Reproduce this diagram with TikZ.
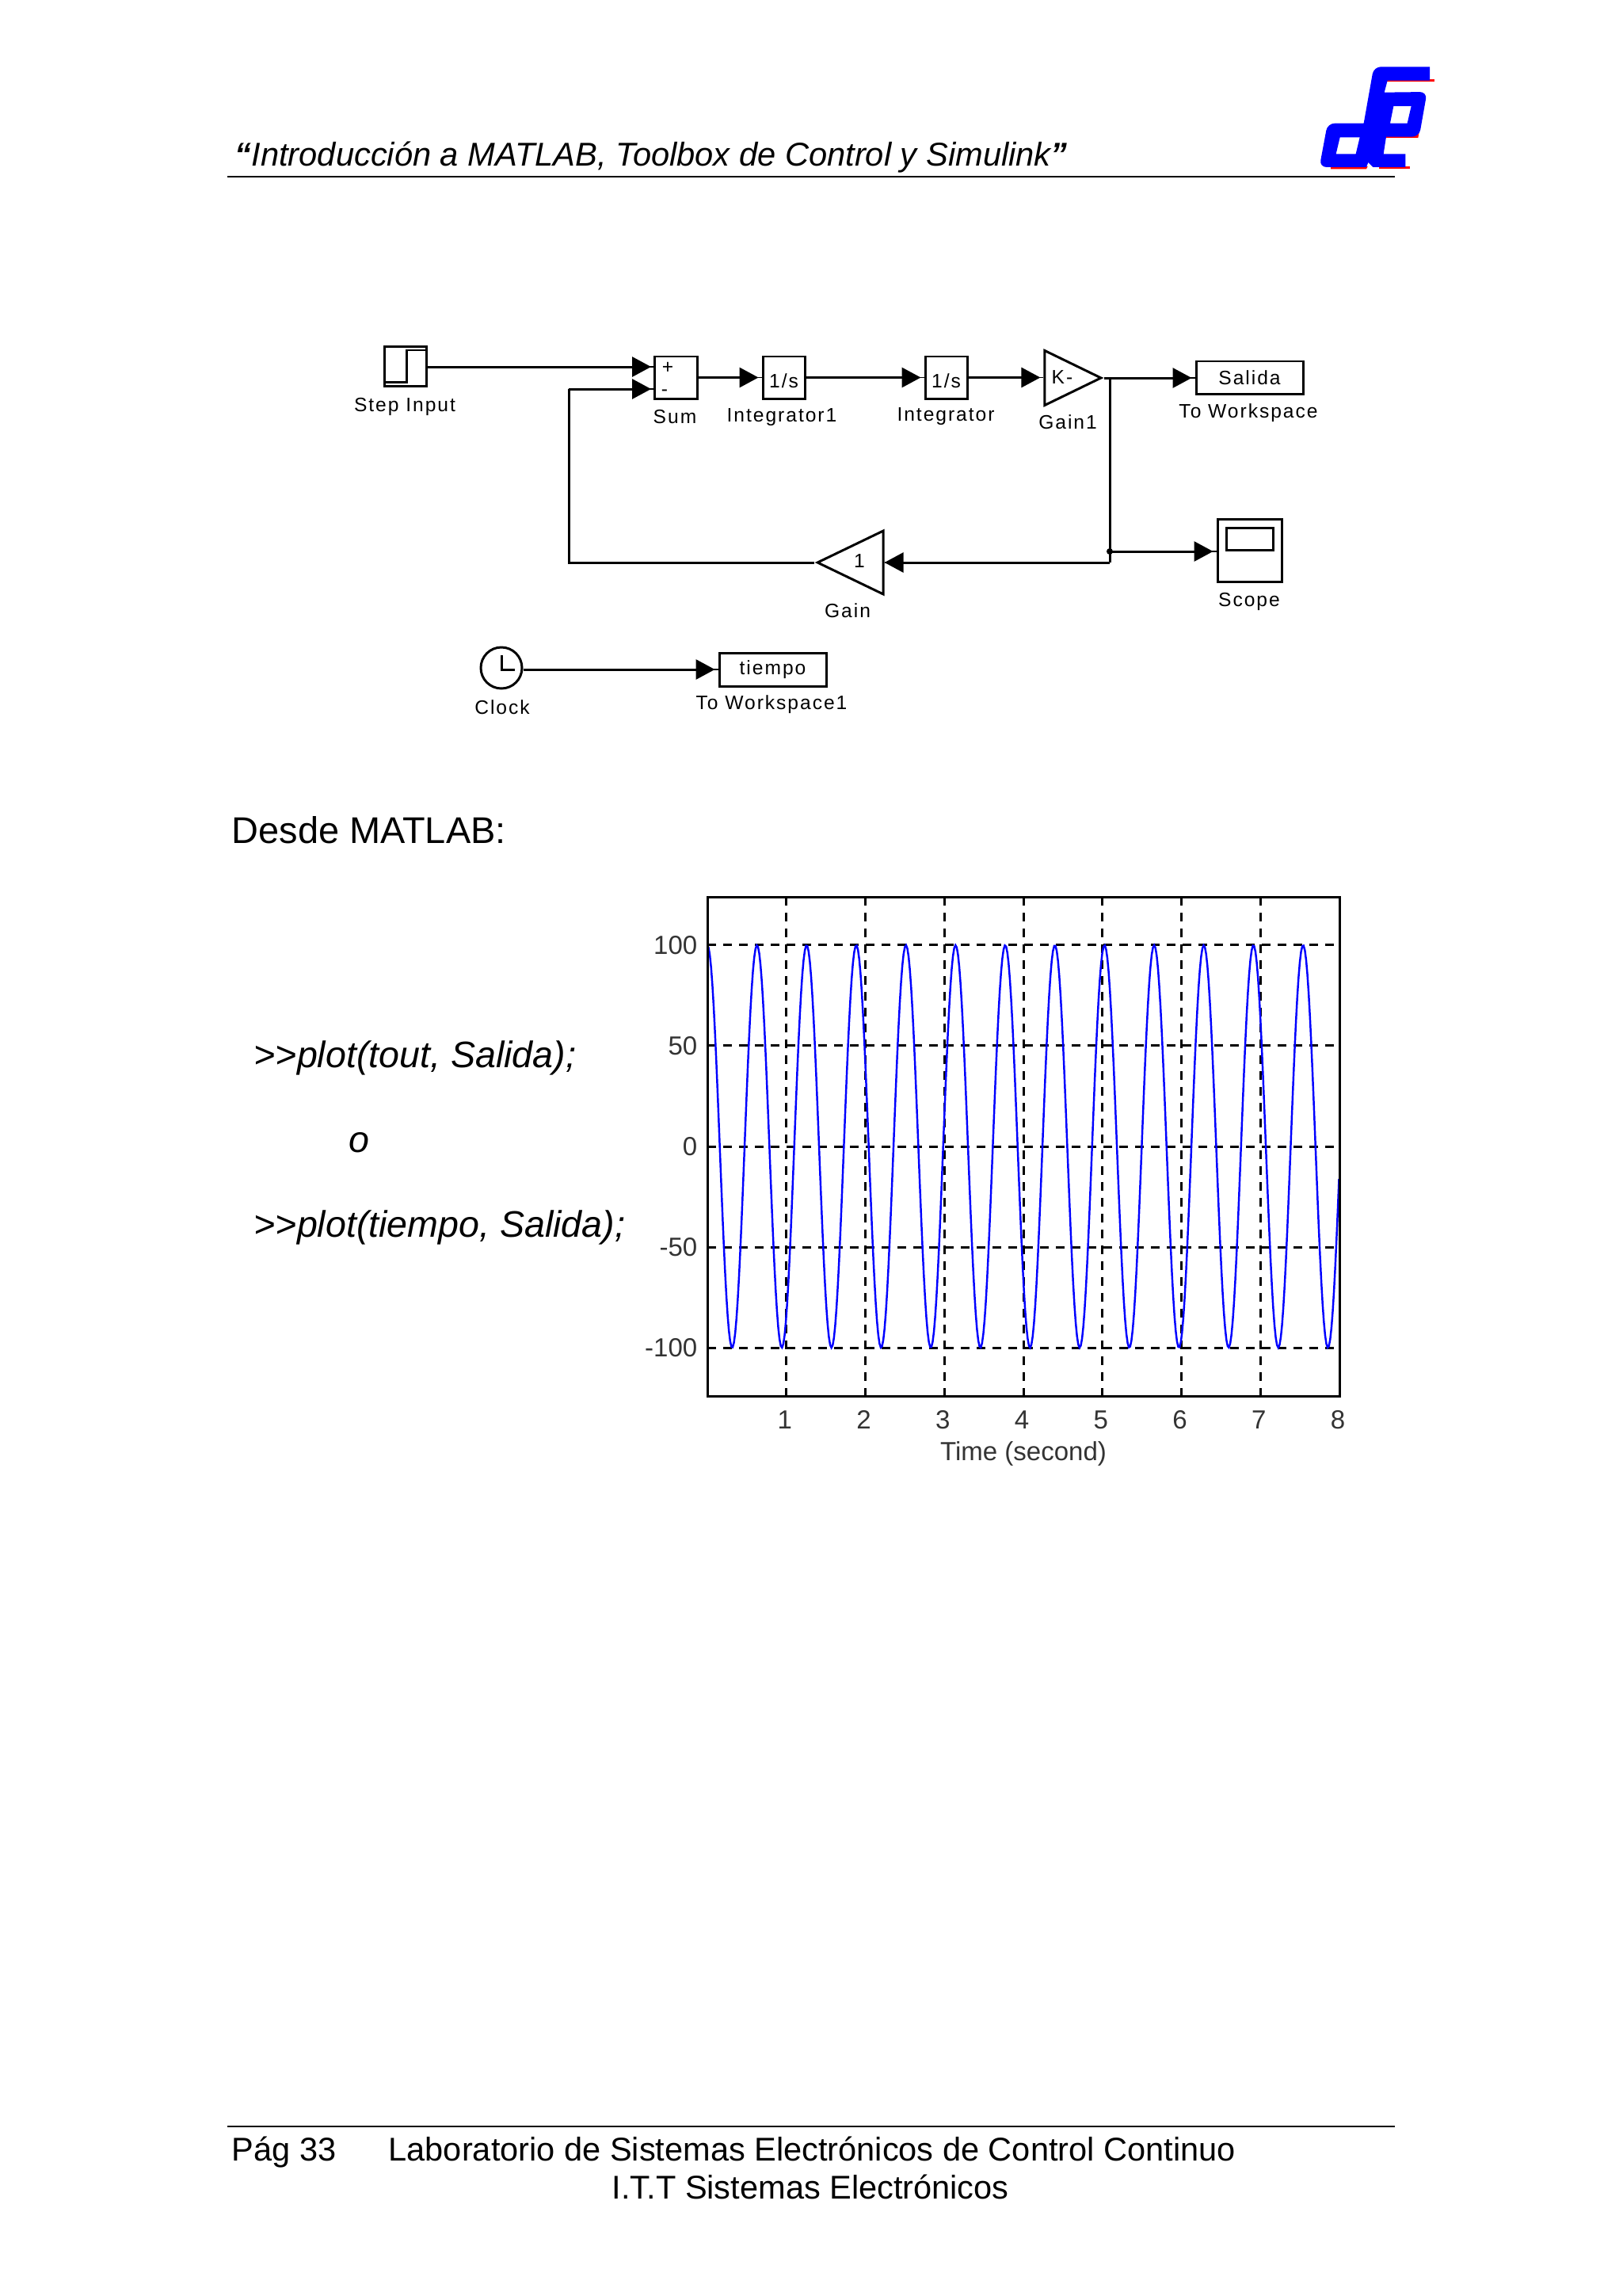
\documentclass[tikz,border=0pt]{standalone}
\usepackage{fontspec}
\setmainfont{Liberation Sans}
\newfontfamily\blockfont[LetterSpace=8]{Liberation Sans}
\usetikzlibrary{arrows.meta,shapes.geometric}
\begin{document}
\begin{tikzpicture}[
  block/.style={draw, line width=0.85pt, inner sep=0pt, align=center,
                font=\blockfont\fontsize{7}{8}\selectfont},
  gainbox/.style={block, isosceles triangle, isosceles triangle stretches},
  lab/.style={inner sep=0pt, font=\blockfont\fontsize{7}{8}\selectfont},
  tick/.style={inner sep=0pt, font=\fontsize{9.4}{11}\selectfont, text=black!80},
  conn/.style={line width=0.85pt},
  prog/.style={conn, -{Triangle[length=0.24cm,width=0.25cm]}, shorten >=0.04cm,
               preaction={draw, -, shorten >=0pt}},
  griddash/.style={line width=0.85pt, dash pattern=on 0.11cm off 0.09cm},
  pagetext/.style={inner sep=0pt, anchor=base west, font=\fontsize{13.35}{16}\selectfont},
  foottext/.style={pagetext, font=\fontsize{11.82}{14}\selectfont},
  cmdtext/.style={pagetext, font=\itshape\fontsize{13.25}{16}\selectfont},
  rulepage/.style={line width=0.55pt},
]
\useasboundingbox (0,0) rectangle (20.48,-28.98);

% Header
\node[pagetext, font=\itshape\fontsize{11.85}{14}\selectfont] (head) at (2.96,-2.09)
  {\textbf{“}Introducción a MATLAB, Toolbox de Control y Simulink\textbf{”}};
\coordinate (headL) at (2.87,-2.23);
\coordinate (headR) at (17.61,-2.23);
\draw[rulepage] (headL) -- (headR);

% Logo
\begin{scope}[shift={(16,-0.6)}, x=1cm/300, y=-1cm/300]
\fill[red] (445,120) -- (632,120) -- (632,129) -- (445,129) -- cycle;
\fill[red] (240,450) -- (380,450) -- (375,460) -- (240,460) -- cycle;
\fill[red] (423,450) -- (541,450) -- (541,460) -- (423,460) -- cycle;
\fill[red] (448,330) -- (575,320) -- (571,342) -- (448,342) -- cycle;
\fill[blue, even odd rule]
  (300,453) [rounded corners=0.09cm] -- (197,453) -- (228,287) [sharp corners] -- (365,287)
  [rounded corners=0.09cm] -- (403,73) [sharp corners] -- (615,73) -- (615,125) -- (455,125) -- (443,170)
  [rounded corners=0.09cm] -- (605,168) -- (575,338) [sharp corners] -- (450,338) -- (440,403)
  -- (523,403) -- (523,453) -- (400,453) -- (382,435) -- (375,453) -- cycle
  (275,340) -- (350,340) -- (335,403) -- (260,403) -- cycle
  (478,222) -- (545,222) -- (530,287) -- (465,287) -- cycle;
\end{scope}

% Top row of blocks
\node[block, minimum width=0.53cm, minimum height=0.50cm] (step) at (5.115,-4.625) {};
\node[block, minimum width=0.54cm, minimum height=0.53cm] (sum) at (8.53,-4.765) {};
\node[block, minimum width=0.53cm, minimum height=0.53cm] (intA) at (9.895,-4.765) {\raisebox{-3.7pt}[0pt][0pt]{1/s}};
\node[block, minimum width=0.53cm, minimum height=0.53cm] (intB) at (11.945,-4.765) {\raisebox{-3.7pt}[0pt][0pt]{1/s}};
\node[gainbox, minimum width=0.69cm, minimum height=0.71cm] (gainA) at (13.405,-4.77) {};
\node[lab] (gainAk) at (13.41,-4.76) {K-};
\node[block, minimum width=1.35cm, minimum height=0.41cm] (salida) at (15.775,-4.765) {Salida};

% Sum signs
\node[lab] (plus) at (8.43,-4.64) {+};
\node[lab] (minus) at (8.39,-4.96) {-};

% Step icon
\draw[conn] (4.85,-4.82) -- (5.13,-4.82) -- (5.13,-4.42) -- (5.38,-4.42);

% Feedback row
\node[gainbox, shape border rotate=180, minimum width=0.80cm, minimum height=0.83cm] (gainB) at (10.90,-7.10) {};
\node[lab] (gainBk) at (10.85,-7.08) {1};
\node[block, minimum width=0.81cm, minimum height=0.79cm] (scope) at (15.775,-6.945) {};
\node[draw, conn, inner sep=0pt, minimum width=0.59cm, minimum height=0.28cm] (screen) at (15.775,-6.80) {};

% Clock row
\node[block, circle, minimum size=0.52cm] (clock) at (6.33,-8.43) {};
\draw[conn] (6.33,-8.27) -- (6.33,-8.45) -- (6.50,-8.45);
\node[block, minimum width=1.35cm, minimum height=0.42cm] (tiempo) at (9.755,-8.45) {tiempo};

% Block labels
\node[lab] (stepLab) at (5.11,-5.13) {Step Input};
\node[lab] (sumLab) at (8.52,-5.26) {Sum};
\node[lab] (intALab) at (9.87,-5.27) {Integrator1};
\node[lab] (intBLab) at (11.94,-5.26) {Integrator};
\node[lab] (gainALab) at (13.48,-5.33) {Gain1};
\node[lab] (salidaLab) at (15.76,-5.21) {To Workspace};
\node[lab] (scopeLab) at (15.77,-7.59) {Scope};
\node[lab] (gainBLab) at (10.70,-7.71) {Gain};
\node[lab] (clockLab) at (6.34,-8.93) {Clock};
\node[lab] (tiempoLab) at (9.74,-8.89) {To Workspace1};

% Connectors
\coordinate (tap) at (14.01,-4.77);
\coordinate (dot) at (14.01,-6.96);
\coordinate (tapEnd) at (14.01,-7.10);
\coordinate (fbCorner) at (7.18,-7.10);
\coordinate (fbTop) at (7.18,-4.91);
\coordinate (sumIn) at (8.26,-4.63);
\coordinate (sumInB) at (8.26,-4.91);
\draw[prog] (step.east |- sumIn) -- (sumIn);
\draw[prog] (sum) -- (intA);
\draw[prog] (intA) -- (intB);
\draw[prog] (intB) -- (gainA.lower side |- intB);
\draw[prog] (gainA.apex) -- (salida.west |- gainA.apex);
\draw[conn] (tap) -- (dot) -- (tapEnd);
\draw[prog, shorten >=0pt] (tapEnd) -- (gainB.lower side |- tapEnd);
\draw[prog] (dot) -- (scope.west |- dot);
\draw[conn] (gainB.apex) -- (fbCorner) -- (fbTop);
\draw[prog] (fbTop) -- (sumInB);
\draw[prog] (clock.east |- tiempo) -- (tiempo);
\fill (dot) circle (0.04cm);

% Text left of the axes
\node[pagetext] (desde) at (2.92,-10.64) {Desde MATLAB:};
\node[cmdtext] (cmdA) at (3.20,-13.47) {>{}>plot(tout, Salida);};
\node[cmdtext] (cmdO) at (4.40,-14.54) {o};
\node[cmdtext] (cmdB) at (3.20,-15.61) {>{}>plot(tiempo, Salida);};

% Axes
\foreach \t in {1,...,7}
  \draw[griddash] ({8.93+0.9975*\t},-11.32) -- ({8.93+0.9975*\t},-17.62);
\foreach \v/\txt in {100/100,50/50,0/0,-50/-50,-100/-100} {
  \draw[griddash] (8.93,{-14.47+0.0254*\v}) -- (16.91,{-14.47+0.0254*\v});
  \node[tick, anchor=east] (ylab\txt) at (8.81,{-14.47+0.0254*\v}) {\txt};
}
\foreach \t in {1,...,8}
  \node[tick] (xlab\t) at ({8.91+0.9975*\t},-17.92) {\t};
\node[tick] (xname) at (12.92,-18.35) {Time (second)};
\draw[blue, line width=0.7pt] plot[domain=0:8, samples=500] ({8.93+0.9975*\x},{-14.47+2.54*cos(10*\x r)});
\node[draw, line width=0.85pt, inner sep=0pt, minimum width=7.98cm, minimum height=6.30cm] (axes) at (12.92,-14.47) {};

% Footer
\coordinate (footL) at (2.87,-26.84);
\coordinate (footR) at (17.61,-26.84);
\draw[rulepage] (footL) -- (footR);
\node[foottext] (pag) at (2.92,-27.27) {Pág 33};
\node[foottext] (labA) at (4.90,-27.27) {Laboratorio de Sistemas Electrónicos de Control Continuo};
\node[foottext] (labB) at (7.72,-27.75) {I.T.T Sistemas Electrónicos};

\end{tikzpicture}
\end{document}
